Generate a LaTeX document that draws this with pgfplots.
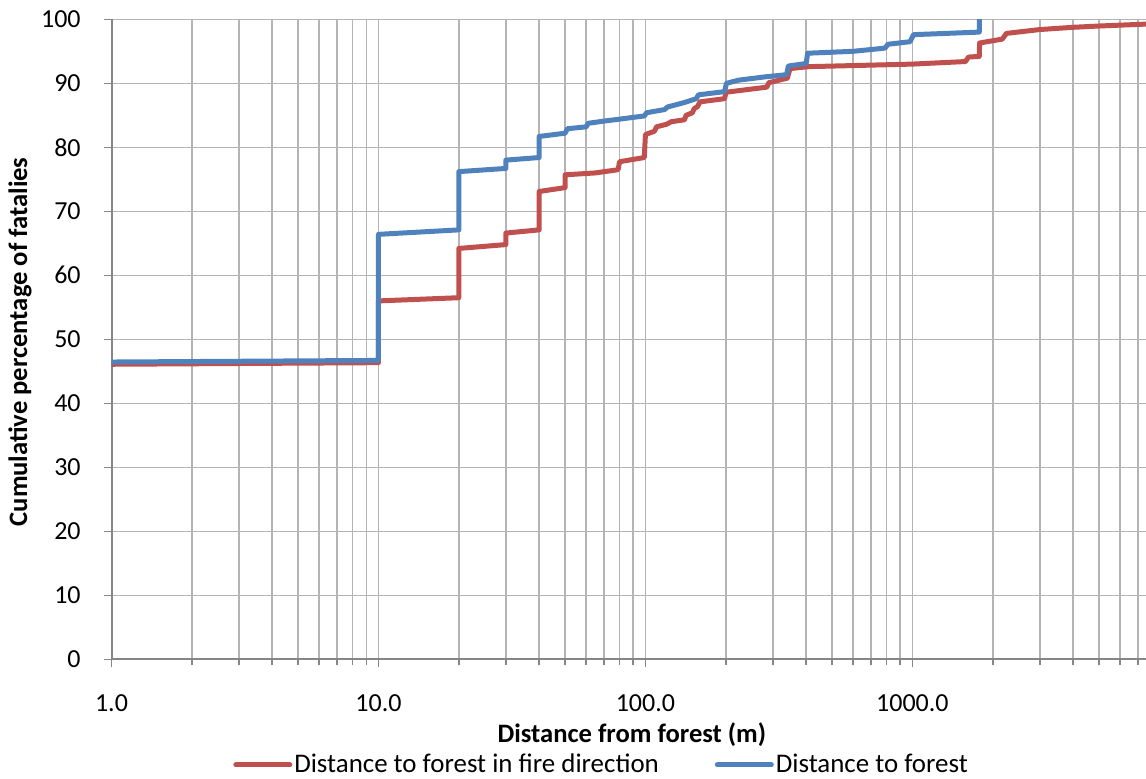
\documentclass[border=0pt]{standalone}
\usepackage{pgfplots}
\pgfplotsset{compat=1.18}
\usepackage{fontspec}
\setmainfont{Carlito}

\definecolor{firered}{HTML}{C0504D}
\definecolor{forestblue}{HTML}{4F81BD}
\definecolor{gridgray}{HTML}{B4B4B4}
\definecolor{axisgray}{HTML}{868686}

\newcommand{\chartfont}{\fontsize{13}{15.6}\selectfont}
\newcommand{\labelfont}{\fontsize{13.3}{16}\selectfont}
\newcommand{\legendfont}{\fontsize{13.45}{16}\selectfont}

\begin{document}
\begin{tikzpicture}
\begin{axis}[
  name=ax,
  scale only axis,
  width=517.25pt, height=320pt,
  xmode=log,
  xmin=1, xmax=7500,
  ymin=0, ymax=100,
  axis x line=bottom, axis y line=left,
  axis line style={draw=axisgray, line width=1pt, -},
  tick align=outside,
  major tick length=3.9pt, minor tick length=3pt,
  every tick/.style={draw=axisgray, line width=0.75pt},
  xtick={1,10,100,1000},
  xticklabels={1.0,10.0,100.0,1000.0},
  minor xtick={2,3,4,5,6,7,8,9,20,30,40,50,60,70,80,90,200,300,400,500,600,700,800,900,2000,3000,4000,5000,6000,7000},
  ytick={0,10,...,100},
  yticklabels={0,10,20,30,40,50,60,70,80,90,100},
  xmajorgrids, xminorgrids, ymajorgrids,
  grid style={draw=gridgray, line width=0.75pt},
  minor grid style={draw=gridgray, line width=0.75pt},
  tick label style={font=\chartfont},
  xticklabel style={yshift=-10pt},
  yticklabel style={xshift=-8pt},
  xlabel={Distance from forest (m)},
  ylabel={Cumulative percentage of fatalies},
  label style={font=\bfseries\labelfont},
  xlabel style={at={(axis description cs:0.503,-0.118)}, anchor=center},
  ylabel style={at={(axis description cs:-0.0884,0.496)}, anchor=center, rotate=0},
  legend columns=2,
  legend style={at={(axis description cs:0.4737,-0.165)}, anchor=center,
    draw=none, fill=none, font=\legendfont,
    nodes={inner xsep=1pt},
    /tikz/every even column/.append style={column sep=27pt}},
  legend image code/.code={\draw[#1, line cap=round] (0pt,0pt) -- (27pt,0pt);},
  every axis plot/.append style={line width=2.5pt, line join=round, line cap=round},
]
% distance to forest measured along the fire direction
\addplot[firered] coordinates {
  (1,46.1) (10,46.35) (10,56.0) (20,56.5) (20,64.2) (30,64.8) (30,66.6)
  (40,67.1) (40,73.1) (50,73.7) (50,75.7) (65,76.0) (79,76.5) (80,77.75)
  (99,78.4) (100,82.0) (108,82.5) (110,83.2) (120,83.6) (125,84.0)
  (140,84.3) (142,85.0) (150,85.4) (152,86.0) (157,86.4) (160,87.1)
  (198,87.6) (200,88.6) (285,89.4) (290,90.1) (340,90.8) (348,92.3)
  (408,92.6) (1000,93.0) (1580,93.4) (1623,94.1) (1780,94.2) (1785,96.3)
  (2170,96.9) (2250,97.8) (3000,98.4) (4000,98.75) (5000,98.95) (7500,99.25)
};
\addlegendentry{Distance to forest in fire direction}
% shortest distance to forest
\addplot[forestblue] coordinates {
  (1,46.45) (10,46.7) (10,66.4) (20,67.1) (20,76.2) (30,76.7) (30,78.0)
  (40,78.4) (40,81.7) (50,82.2) (51,82.9) (60,83.2) (61,83.75) (70,84.1)
  (80,84.4) (99,84.9) (101,85.4) (118,85.9) (121,86.3) (140,87.0)
  (155,87.6) (158,88.2) (198,88.7) (201,90.0) (224,90.5) (280,91.0)
  (338,91.35) (343,92.7) (400,93.1) (405,94.7) (600,95.0) (790,95.5)
  (810,96.1) (980,96.5) (1010,97.6) (1780,98.0) (1780,100.5)
};
\addlegendentry{Distance to forest}
\end{axis}
\pgfresetboundingbox
\path[use as bounding box] ([shift={(-55.75pt,-59.35pt)}]ax.south west)
  rectangle ([shift={(0pt,9.65pt)}]ax.north east);
\end{tikzpicture}
\end{document}
